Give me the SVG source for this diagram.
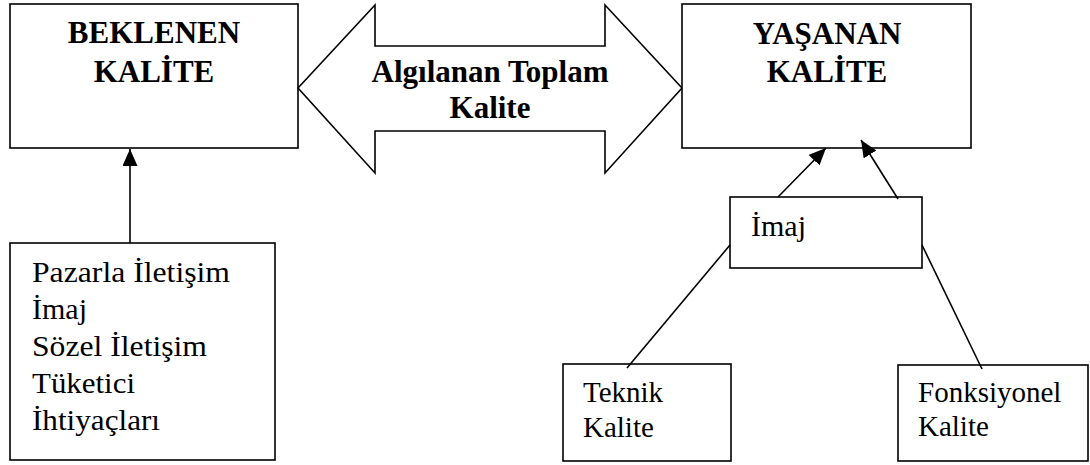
<svg xmlns="http://www.w3.org/2000/svg" width="1090" height="465" viewBox="0 0 1090 465">
<style>
.box{fill:#fff;stroke:#000;stroke-width:1.6}
.b{font-family:'Liberation Serif','DejaVu Serif',serif;font-weight:bold;font-size:31px;fill:#000;text-anchor:middle}
.r{font-family:'Liberation Serif','DejaVu Serif',serif;font-size:29px;fill:#000}
.c{fill:none;stroke:#000;stroke-width:1.6}
</style>
<defs>
<marker id="ah" markerUnits="userSpaceOnUse" markerWidth="18" markerHeight="16" refX="17" refY="7.5" orient="auto">
<path d="M0,0 L17,7.5 L0,15 z" fill="#000"/>
</marker>
</defs>
<rect width="1090" height="465" fill="#fff"/>
<g id="beklenen">
<rect class="box" x="10" y="4" width="288" height="144"/>
<text class="b" x="154" y="43" font-family="Liberation Serif">BEKLENEN</text>
<text class="b" x="154" y="82" font-family="Liberation Serif">KALİTE</text>
</g>
<g id="algilanan">
<polygon class="box" points="298,88 375,5 375,46 605,46 605,5 682,88 605,173 605,131 375,131 375,173"/>
<text class="b" x="490" y="82">Algılanan Toplam</text>
<text class="b" x="490" y="118">Kalite</text>
</g>
<g id="yasanan">
<rect class="box" x="682" y="4" width="289" height="144"/>
<text class="b" x="827" y="44">YAŞANAN</text>
<text class="b" x="827" y="82">KALİTE</text>
</g>
<g id="etkenler">
<rect class="box" x="10" y="243" width="265" height="217"/>
<text class="r" x="32" y="282" textLength="198" lengthAdjust="spacingAndGlyphs">Pazarla İletişim</text>
<text class="r" x="32" y="319" textLength="55" lengthAdjust="spacingAndGlyphs">İmaj</text>
<text class="r" x="32" y="356" textLength="175" lengthAdjust="spacingAndGlyphs">Sözel İletişim</text>
<text class="r" x="32" y="393" textLength="103" lengthAdjust="spacingAndGlyphs">Tüketici</text>
<text class="r" x="32" y="430" textLength="128" lengthAdjust="spacingAndGlyphs">İhtiyaçları</text>
</g>
<g id="imaj">
<rect class="box" x="730" y="197" width="192" height="71"/>
<text class="r" x="751" y="236" style="font-size:30px">İmaj</text>
</g>
<g id="teknik">
<rect class="box" x="563" y="364" width="168" height="97"/>
<text class="r" x="583" y="402">Teknik</text>
<text class="r" x="583" y="437">Kalite</text>
</g>
<g id="fonksiyonel">
<rect class="box" x="898" y="365" width="190" height="96"/>
<text class="r" x="918" y="402">Fonksiyonel</text>
<text class="r" x="918" y="436">Kalite</text>
</g>
<g id="connectors">
<line class="c" x1="130" y1="243" x2="130" y2="149" marker-end="url(#ah)"/>
<line class="c" x1="778" y1="197" x2="826" y2="148" marker-end="url(#ah)"/>
<line class="c" x1="898" y1="199" x2="861" y2="140" marker-end="url(#ah)"/>
<line class="c" x1="730" y1="245" x2="627" y2="368"/>
<line class="c" x1="922" y1="245" x2="982" y2="369"/>
</g>
</svg>
